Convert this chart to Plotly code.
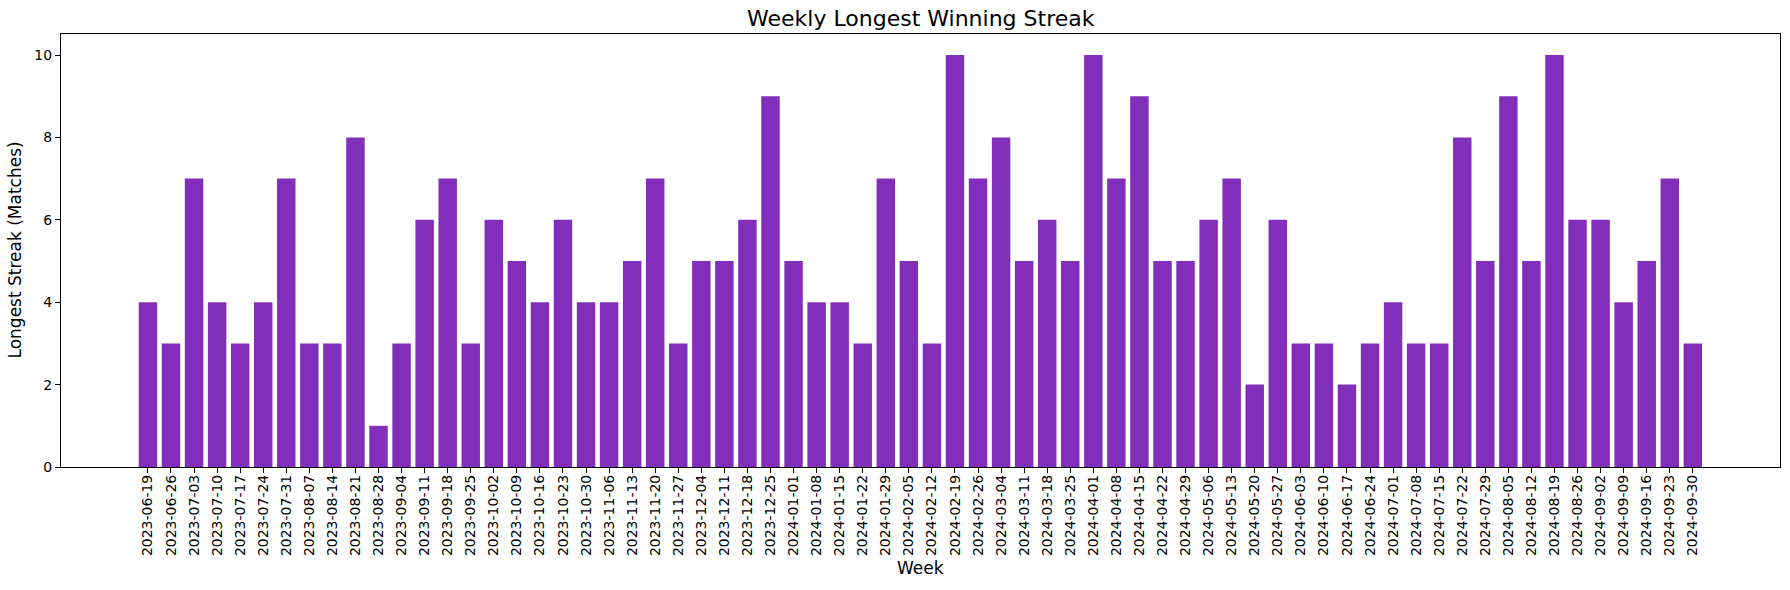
import plotly.graph_objects as go

weeks = ["2023-06-19","2023-06-26","2023-07-03","2023-07-10","2023-07-17","2023-07-24","2023-07-31",
         "2023-08-07","2023-08-14","2023-08-21","2023-08-28","2023-09-04","2023-09-11","2023-09-18",
         "2023-09-25","2023-10-02","2023-10-09","2023-10-16","2023-10-23","2023-10-30","2023-11-06",
         "2023-11-13","2023-11-20","2023-11-27","2023-12-04","2023-12-11","2023-12-18","2023-12-25",
         "2024-01-01","2024-01-08","2024-01-15","2024-01-22","2024-01-29","2024-02-05","2024-02-12",
         "2024-02-19","2024-02-26","2024-03-04","2024-03-11","2024-03-18","2024-03-25","2024-04-01",
         "2024-04-08","2024-04-15","2024-04-22","2024-04-29","2024-05-06","2024-05-13","2024-05-20",
         "2024-05-27","2024-06-03","2024-06-10","2024-06-17","2024-06-24","2024-07-01","2024-07-08",
         "2024-07-15","2024-07-22","2024-07-29","2024-08-05","2024-08-12","2024-08-19","2024-08-26",
         "2024-09-02","2024-09-09","2024-09-16","2024-09-23","2024-09-30"]
streaks = [4,3,7,4,3,4,7,3,3,8,1,3,6,7,3,6,5,4,6,4,4,5,7,3,5,5,6,9,
           5,4,4,3,7,5,3,10,7,8,5,6,5,10,7,9,5,5,6,7,2,6,3,3,2,3,4,3,3,8,5,9,5,10,6,6,4,5,7,3]
y_ticks = [0, 2, 4, 6, 8, 10]

font = "DejaVu Sans"
fig = go.Figure(go.Bar(x=weeks, y=streaks, marker_color="#812FBA", marker_line_width=0, width=0.8))

fig.update_layout(
    width=1790, height=590,
    margin=dict(l=61, r=10, t=34, b=123),
    plot_bgcolor="white", paper_bgcolor="white",
    font=dict(family=font, color="black", size=14),
    showlegend=False,
    bargap=0.2,
)
fig.update_xaxes(
    type="category", range=[-3.77, len(weeks) - 1 + 3.78],
    tickangle=-90, tickfont=dict(size=14, family=font), ticklabelstandoff=-4,
    showline=True, linecolor="black", linewidth=1.3, mirror=True,
    ticks="outside", ticklen=5, tickwidth=1, tickcolor="black",
    showgrid=False, zeroline=False,
)
fig.update_yaxes(
    range=[0, 10.51], tickvals=y_ticks, tickfont=dict(size=14, family=font),
    showline=True, linecolor="black", linewidth=1.3, mirror=True,
    ticks="outside", ticklen=5, tickwidth=1, tickcolor="black",
    showgrid=False, zeroline=False,
)
fig.add_annotation(text="Weekly Longest Winning Streak", xref="paper", yref="paper",
                   x=0.5, y=1, yshift=16, showarrow=False, font=dict(size=22, family=font),
                   xanchor="center", yanchor="middle")
fig.add_annotation(text="Week", xref="paper", yref="paper", x=0.5, y=0, yshift=-101,
                   showarrow=False, font=dict(size=17, family=font), xanchor="center", yanchor="middle")
fig.add_annotation(text="Longest Streak (Matches)", xref="paper", yref="paper", x=0, xshift=-47,
                   y=0.5, showarrow=False, textangle=-90, font=dict(size=17, family=font),
                   xanchor="center", yanchor="middle")
fig.write_html("out.html")
